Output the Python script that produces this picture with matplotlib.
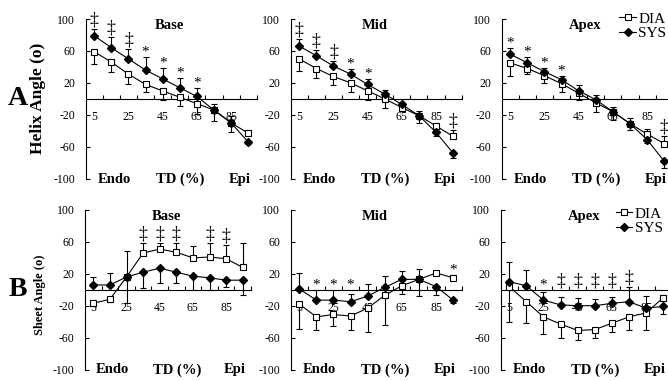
import matplotlib
matplotlib.use("Agg")
import matplotlib.pyplot as plt

plt.rcParams['font.family'] = ['Liberation Serif', 'DejaVu Serif']

# ---------------- data ----------------
td = [5, 15, 25, 35, 45, 55, 65, 75, 85, 95]
td_labels = [5, 25, 45, 65, 85]
y_ticks = [100, 60, 20, -20, -60, -100]

helix_base_dia = [59, 46, 31, 18, 10, 2, -6, -14, -30, -43]
helix_base_dia_err = [15, 13, 12.5, 10, 11.5, 11, 13.5, 14, 11, 4]
helix_base_sys = [79, 64, 50, 36, 25, 14, 3, -14, -30, -54]
helix_base_sys_err = [9, 14, 13, 16, 14, 12, 11, 8, 8, 3]
helix_base_sig = ['‡', '‡', '‡', '*', '*', '*', '*', '', '', '']

helix_mid_dia = [50, 38, 28, 20, 10, 0, -11, -21, -34, -47]
helix_mid_dia_err = [15.5, 11.5, 10.5, 11.5, 11.5, 12, 3, 9, 4, 8]
helix_mid_sys = [66, 54, 41, 31, 18, 6, -7, -21, -42, -68]
helix_mid_sys_err = [9, 7.5, 6.5, 6.5, 6.5, 5, 2, 6, 4, 6]
helix_mid_sig = ['‡', '‡', '‡', '*', '*', '', '', '', '', '‡']

helix_apex_dia = [45, 38, 29, 19, 7, -5, -16, -31, -44, -56]
helix_apex_dia_err = [16, 7, 9, 10, 8.5, 12, 11, 8, 6, 10]
helix_apex_sys = [56, 45, 34, 24, 10, -1, -16, -31, -51, -78]
helix_apex_sys_err = [7.5, 7.5, 5, 5, 7, 6, 6, 7, 4, 8]
helix_apex_sig = ['*', '*', '*', '*', '', '', '', '', '', '‡']

sheet_base_dia = [-17, -12, 16, 46, 51, 47, 40, 41, 39, 28]
sheet_base_dia_err = [3, 3, 32, 12, 8, 12, 15, 18, 17, 31]
sheet_base_sys = [6, 6, 16, 22, 27, 22, 17, 15, 12, 12]
sheet_base_sys_err = [10, 15, 32, 20, 19, 14, 17, 15, 8, 18]
sheet_base_sig = ['', '', '', '‡', '‡', '‡', '', '‡', '‡', '']

sheet_mid_dia = [-18, -34, -31, -33, -23, -7, 5, 13, 21, 15]
sheet_mid_dia_err = [31, 17, 15, 17, 30, 37, 10, 21, 3, 3]
sheet_mid_sys = [1, -13, -13, -15, -8, 3, 13, 13, 4, -13]
sheet_mid_sys_err = [20, 13, 13, 10, 15, 14, 11, 13, 10, 4]
sheet_mid_sig = ['', '*', '*', '*', '', '', '', '', '', '*']

sheet_apex_dia = [4, -15, -34, -43, -51, -50, -42, -34, -29, -10]
sheet_apex_dia_err = [44, 27, 21, 18, 12, 11, 10.5, 17, 22, 3]
sheet_apex_sys = [10, 5, -13, -19, -20, -20, -17, -15, -23, -21]
sheet_apex_sys_err = [25, 20, 10, 10.5, 9.5, 9, 8.5, 19, 15, 10]
sheet_apex_sig = ['', '', '*', '‡', '‡', '‡', '‡', '‡', '', '']

titles = ['Base', 'Mid', 'Apex']
row_letters = ['A', 'B']
row_ylabels = ['Helix Angle (o)', 'Sheet Angle (o)']
series_names = ['DIA', 'SYS']

panels = [
    [(helix_base_dia, helix_base_dia_err, helix_base_sys, helix_base_sys_err, helix_base_sig),
     (helix_mid_dia, helix_mid_dia_err, helix_mid_sys, helix_mid_sys_err, helix_mid_sig),
     (helix_apex_dia, helix_apex_dia_err, helix_apex_sys, helix_apex_sys_err, helix_apex_sig)],
    [(sheet_base_dia, sheet_base_dia_err, sheet_base_sys, sheet_base_sys_err, sheet_base_sig),
     (sheet_mid_dia, sheet_mid_dia_err, sheet_mid_sys, sheet_mid_sys_err, sheet_mid_sig),
     (sheet_apex_dia, sheet_apex_dia_err, sheet_apex_sys, sheet_apex_sys_err, sheet_apex_sig)],
]

# ---------------- layout ----------------
W, H = 668, 381
fig = plt.figure(figsize=(W / 100, H / 100), dpi=100)

row_px = [(19.0, 178.7), (210.0, 369.5)]          # top, bottom (pixels)
col_px = [[(85.7, 171), (290.7, 171), (501.7, 171)],
          [(85.0, 166), (290.7, 171), (500.7, 171)]]
legend_anchor = [(0.688, 1.045), (0.672, 1.02)]
ylabel_sizes = [12.5, 9]
ylabel_y = [0.5, 0.47]

LW = 0.8
TICK_FS = 8.5
LAB_FS = 10.5

for r in range(2):
    top, bot = row_px[r]
    for c in range(3):
        left, width = col_px[r][c]
        ax = fig.add_axes([left / W, 1 - bot / H, width / W, (bot - top) / H])
        ax.set_xlim(0, 100)
        ax.set_ylim(-100, 100)
        for s in ['top', 'right']:
            ax.spines[s].set_visible(False)
        ax.spines['bottom'].set_position(('data', 0))
        ax.spines['bottom'].set_linewidth(LW)
        ax.spines['left'].set_linewidth(LW)
        ax.set_xticks(range(10, 101, 10))
        ax.set_xticklabels([])
        ax.set_yticks(y_ticks)
        ax.set_yticklabels([str(v) for v in y_ticks])
        ax.tick_params(axis='both', direction='in', length=3, width=LW,
                       labelsize=TICK_FS, pad=7.5)
        ax.patch.set_visible(False)

        for v in td_labels:
            ax.text(v, -23, str(v), ha='center', va='center', fontsize=TICK_FS)

        dia, dia_err, sys_, sys_err, sig = panels[r][c]

        # error bars: upper series up, lower series down
        dia_lo, dia_hi, sys_lo, sys_hi = [], [], [], []
        tops = []
        for i in range(len(td)):
            if sys_[i] >= dia[i]:
                sys_lo.append(0); sys_hi.append(sys_err[i])
                dia_lo.append(dia_err[i]); dia_hi.append(0)
            else:
                sys_lo.append(sys_err[i]); sys_hi.append(0)
                dia_lo.append(0); dia_hi.append(dia_err[i])
            tops.append(max(sys_[i] + sys_hi[-1], dia[i] + dia_hi[-1]))

        ax.errorbar(td, dia, yerr=[dia_lo, dia_hi], fmt='none', ecolor='black',
                    elinewidth=LW, capsize=2.4, capthick=LW, zorder=2)
        ax.errorbar(td, sys_, yerr=[sys_lo, sys_hi], fmt='none', ecolor='black',
                    elinewidth=LW, capsize=2.4, capthick=LW, zorder=2)
        ax.plot(td, dia, '-', color='black', lw=LW, marker='s', ms=3.8,
                mfc='white', mec='black', mew=0.8, zorder=3, label=series_names[0])
        ax.plot(td, sys_, '-', color='black', lw=LW, marker='D', ms=4.4,
                mfc='black', mec='black', zorder=4, label=series_names[1])

        for i, s in enumerate(sig):
            if not s:
                continue
            anchor = tops[i] if tops[i] < -25 else max(tops[i], 0)
            if s == '*':
                ax.annotate(s, (td[i], anchor), xytext=(0, 3.5), textcoords='offset points',
                            ha='center', va='center', fontsize=11)
            else:
                ax.annotate(s, (td[i], anchor), xytext=(0, 6.5), textcoords='offset points',
                            ha='center', va='center', fontsize=13)

        ax.text(49, 92, titles[c], ha='center', va='center', fontsize=LAB_FS,
                fontweight='bold')
        ax.text(16.5, -100.5, 'Endo', ha='center', va='center', fontsize=LAB_FS,
                fontweight='bold')
        ax.text(55.5, -100.5, 'TD (%)', ha='center', va='center', fontsize=LAB_FS,
                fontweight='bold')
        ax.text(90, -100.5, 'Epi', ha='center', va='center', fontsize=LAB_FS,
                fontweight='bold')

        if c == 0:
            ax.set_ylabel(row_ylabels[r], fontsize=ylabel_sizes[r], fontweight='bold')
            ax.yaxis.set_label_coords(-0.235, ylabel_y[r])
        if c == 2:
            ax.legend(loc='upper left', bbox_to_anchor=legend_anchor[r], frameon=False,
                      fontsize=11, handlelength=1.1, handletextpad=0.15,
                      labelspacing=0.05, borderpad=0, borderaxespad=0)

for r in range(2):
    top, bot = row_px[r]
    cy = (top + bot) / 2
    fig.text(18 / W, 1 - cy / H, row_letters[r], ha='center', va='center',
             fontsize=20, fontweight='bold')

fig.savefig('out.png', dpi=100)
